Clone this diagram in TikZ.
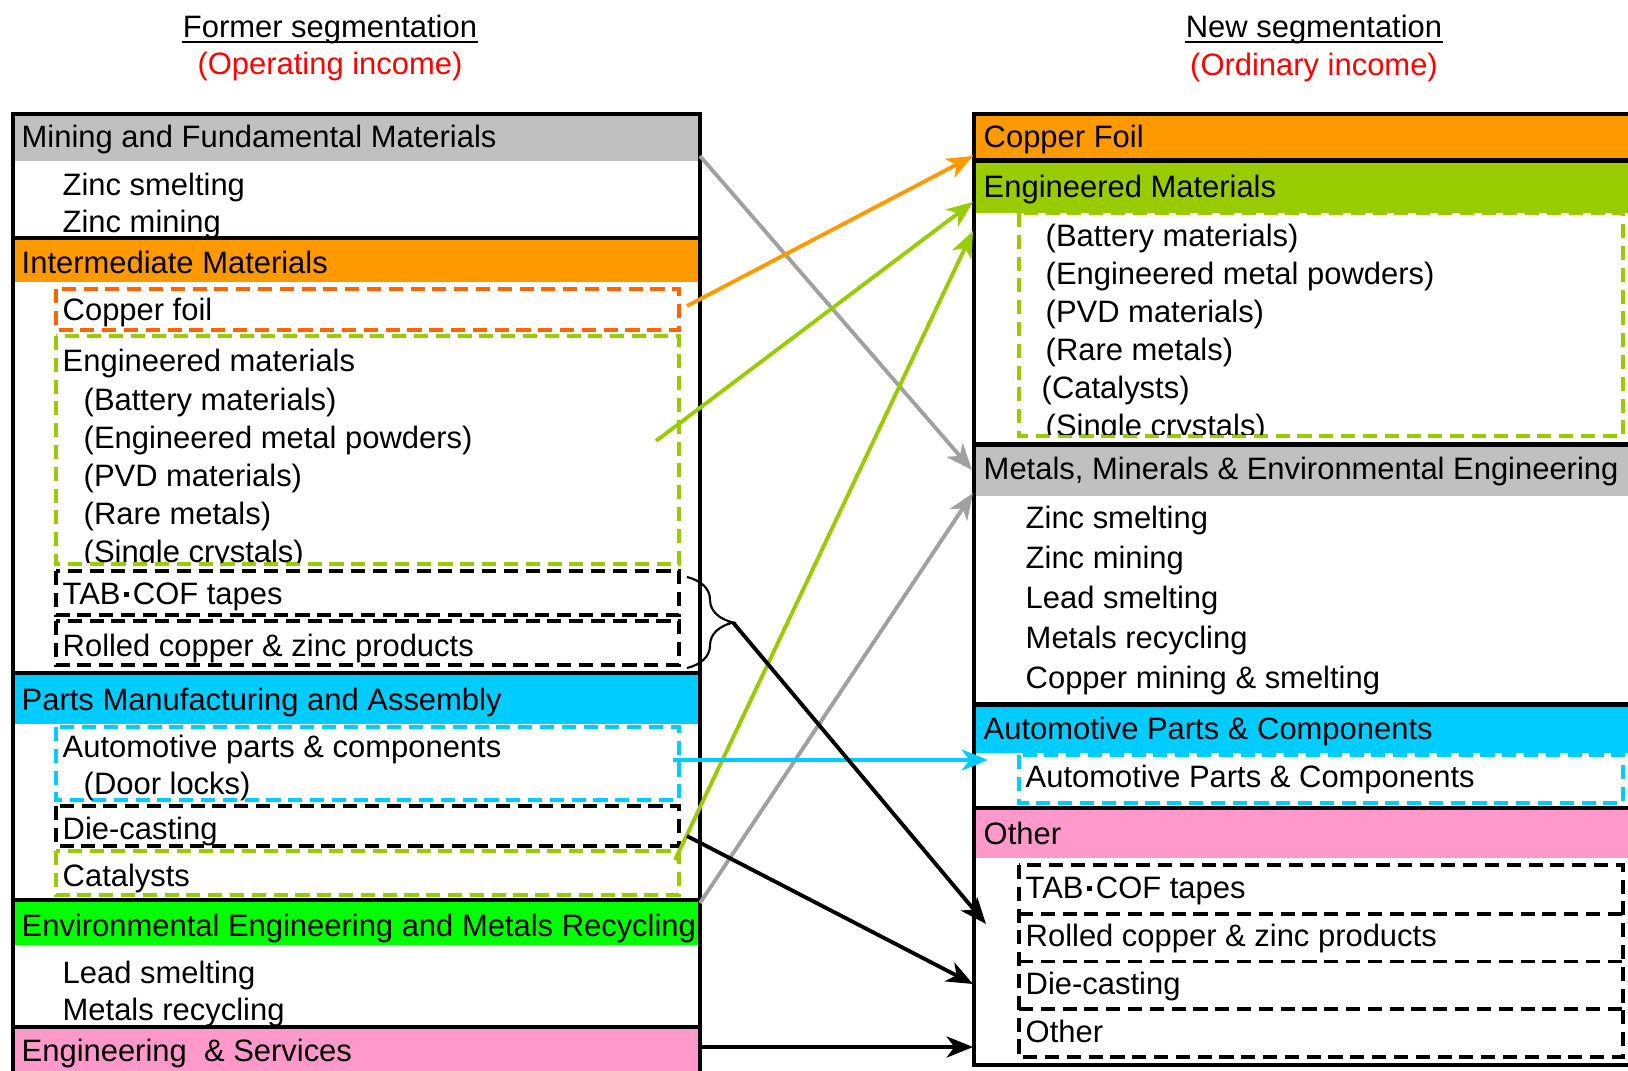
\documentclass[tikz,border=0pt]{standalone}
\usepackage{fontspec}
\setmainfont{Liberation Sans}
\usetikzlibrary{arrows.meta}
\usetikzlibrary{positioning}
\usetikzlibrary{decorations.pathreplacing}
\definecolor{hgray}{RGB}{192,192,192}
\definecolor{horange}{RGB}{255,153,0}
\definecolor{hlime}{RGB}{153,204,0}
\definecolor{hcyan}{RGB}{0,204,255}
\definecolor{hgreen}{RGB}{0,255,0}
\definecolor{hpink}{RGB}{255,153,204}
\definecolor{dorange}{RGB}{255,102,0}
\definecolor{agray}{RGB}{160,160,160}
\definecolor{tred}{RGB}{255,0,0}
\newcommand{\tabdot}{\hspace{0.12em}\raisebox{0.25em}{\rule{0.16em}{0.16em}}\hspace{0.12em}}

\tikzset{
  txt/.style={anchor=west, inner sep=0pt, text height=0.72em, text depth=0pt,
    font=\fontsize{8.8}{10}\selectfont},
  ttl/.style={inner sep=0pt, text height=0.72em, text depth=0pt,
    font=\fontsize{8.8}{10}\selectfont},
  uline/.style={line width=0.55pt},
  frame/.style={line width=1.1pt},
  sep/.style={line width=1.3pt},
  dbox/.style={line width=1.05pt, dash pattern=on 4pt off 2.2pt},
  link/.style={line width=1.1pt, -{Stealth[length=7.5pt, width=6pt, inset=2.2pt]}},
}

\begin{document}
\begin{tikzpicture}[x=0.01cm, y=-0.01cm]
  \useasboundingbox (0,0) rectangle (1628,1070);

  % titles
  \node [ttl] (oldT) at (330,25) {Former segmentation};
  \node [ttl, tred] (oldS) at (330,62) {(Operating income)};
  \node [ttl] (newT) at (1314,25) {New segmentation};
  \node [ttl, tred] (newS) at (1314,63) {(Ordinary income)};
  \draw [uline] ([yshift=-1.15pt]oldT.south west) -- ([yshift=-1.15pt]oldT.south east);
  \draw [uline] ([yshift=-1.15pt]newT.south west) -- ([yshift=-1.15pt]newT.south east);

  % former segments
  \fill [hgray] (13,114) rectangle (700,161);
  \fill [horange] (13,240) rectangle (700,282);
  \fill [hcyan] (13,675) rectangle (700,724);
  \fill [hgreen] (13,902) rectangle (700,945);
  \fill [hpink] (13,1029) rectangle (700,1075);
  \draw [sep] (13,238) -- (700,238);
  \draw [sep] (13,673) -- (700,673);
  \draw [sep] (13,900) -- (700,900);
  \draw [sep] (13,1027) -- (700,1027);
  \draw [frame] (13,1080) -- (13,114) -- (700,114) -- (700,1080);

  \draw [dbox, dorange] (56,289) rectangle (679,330);
  \draw [dbox, hlime] (56,336) rectangle (679,564);
  \draw [dbox] (56,571) rectangle (679,615);
  \draw [dbox] (56,621) rectangle (679,665);
  \draw [dbox, hcyan] (56,727) rectangle (679,800);
  \draw [dbox] (56,806) rectangle (679,846);
  \draw [dbox, hlime] (56,851) rectangle (679,895);

  \node [txt] (mfm) at (21,135) {Mining and Fundamental Materials};
  \node [txt] (mfmZs) at (62,183) {Zinc smelting};
  \node [txt] (mfmZm) at (62,220) {Zinc mining};
  \node [txt] (im) at (21,261) {Intermediate Materials};
  \node [txt] (imCu) at (62,308) {Copper foil};
  \node [txt] (imEm) at (62,359) {Engineered materials};
  \node [txt] (imBat) at (83,398) {(Battery materials)};
  \node [txt] (imPow) at (83,436) {(Engineered metal powders)};
  \node [txt] (imPvd) at (83,474) {(PVD materials)};
  \node [txt] (imRare) at (83,512) {(Rare metals)};
  \begin{scope}
    \clip (56,500) rectangle (679,562);
    \node [txt] (imSc) at (83,550) {(Single crystals)};
  \end{scope}
  \node [txt] (imTab) at (62,592) {TAB\tabdot COF tapes};
  \node [txt] (imRc) at (62,644) {Rolled copper \& zinc products};
  \node [txt] (pma) at (21,698) {Parts Manufacturing and Assembly};
  \node [txt] (pmaAp) at (62,745) {Automotive parts \& components};
  \node [txt] (pmaDl) at (83,782) {(Door locks)};
  \node [txt] (pmaDc) at (62,827) {Die-casting};
  \node [txt] (pmaCat) at (62,874) {Catalysts};
  \node [txt] (eem) at (21,924) {Environmental Engineering and Metals Recycling};
  \node [txt] (eemLs) at (62,971) {Lead smelting};
  \node [txt] (eemMr) at (62,1008) {Metals recycling};
  \node [txt] (es) at (21,1049) {Engineering\ \ \& Services};

  % new segments
  \fill [horange] (974,114) rectangle (1635,159);
  \fill [hlime] (974,162) rectangle (1635,213);
  \fill [hgray] (974,446) rectangle (1635,496);
  \fill [hcyan] (974,706) rectangle (1635,753);
  \fill [hpink] (974,810) rectangle (1635,858);
  \draw [sep] (974,160.5) -- (1635,160.5);
  \draw [sep] (974,444.5) -- (1635,444.5);
  \draw [sep] (974,704.5) -- (1635,704.5);
  \draw [sep] (974,808) -- (1635,808);
  \draw [frame] (1635,114) -- (974,114) -- (974,1065) -- (1635,1065);

  \draw [dbox, hlime] (1019,213) rectangle (1623,436);
  \draw [dbox, hcyan] (1019,755) rectangle (1623,803);
  \draw [dbox] (1019,865) rectangle (1623,1057);
  \draw [dbox] (1019,914) -- (1623,914);
  \draw [dbox] (1019,961.5) -- (1623,961.5);
  \draw [dbox] (1019,1009) -- (1623,1009);

  \node [txt] (cf) at (983,135) {Copper Foil};
  \node [txt] (em) at (983,185) {Engineered Materials};
  \node [txt] (emBat) at (1045,234) {(Battery materials)};
  \node [txt] (emPow) at (1045,272) {(Engineered metal powders)};
  \node [txt] (emPvd) at (1045,310) {(PVD materials)};
  \node [txt] (emRare) at (1045,348) {(Rare metals)};
  \node [txt] (emCat) at (1041,386) {(Catalysts)};
  \begin{scope}
    \clip (1019,400) rectangle (1623,434);
    \node [txt] (emSc) at (1045,424) {(Single crystals)};
  \end{scope}
  \node [txt] (mme) at (983,467) {Metals, Minerals \& Environmental Engineering};
  \node [txt] (mmeZs) at (1025,516) {Zinc smelting};
  \node [txt] (mmeZm) at (1025,556) {Zinc mining};
  \node [txt] (mmeLs) at (1025,596) {Lead smelting};
  \node [txt] (mmeMr) at (1025,636) {Metals recycling};
  \node [txt] (mmeCu) at (1025,676) {Copper mining \& smelting};
  \node [txt] (apc) at (983,727) {Automotive Parts \& Components};
  \node [txt] (apcIt) at (1025,775) {Automotive Parts \& Components};
  \node [txt] (oth) at (983,832) {Other};
  \node [txt] (othTab) at (1025,886) {TAB\tabdot COF tapes};
  \node [txt] (othRc) at (1025,934) {Rolled copper \& zinc products};
  \node [txt] (othDc) at (1025,982) {Die-casting};
  \node [txt] (othOt) at (1025,1030) {Other};

  % brace over tapes and rolled products
  \draw [line width=0.6pt, decorate, decoration={brace, amplitude=0.46cm}]
    (687,577) -- (687,668) coordinate [midway, xshift=0.46cm] (brTip);

  % arrow ends
  \coordinate (mfmOut) at (700,156);
  \coordinate (mmeIn) at (972,470);
  \coordinate (cuOut) at (687,306);
  \coordinate (cfIn) at (973,156);
  \coordinate (emOut) at (656,441);
  \coordinate (emIn) at (973,202);
  \coordinate (catOut) at (675,860);
  \coordinate (catIn) at (973,231);
  \coordinate (eemOut) at (700,903);
  \coordinate (eemIn) at (973,493);
  \coordinate (apOut) at (673,760);
  \coordinate (apIn) at (988,760);
  \coordinate (tabIn) at (986,924);
  \coordinate (dcOut) at (687,836);
  \coordinate (dcIn) at (973,984);
  \coordinate (esOut) at (700,1047);
  \coordinate (esIn) at (973,1047);

  \draw [link, agray] (mfmOut) -- (mmeIn);
  \draw [link, horange] (cuOut) -- (cfIn);
  \draw [link, hlime] (emOut) -- (emIn);
  \draw [link, hlime] (catOut) -- (catIn);
  \draw [link, agray] (eemOut) -- (eemIn);
  \draw [link, hcyan] (apOut) -- (apIn);
  \draw [link] (brTip) -- (tabIn);
  \draw [link] (dcOut) -- (dcIn);
  \draw [link] (esOut) -- (esIn);
\end{tikzpicture}
\end{document}
